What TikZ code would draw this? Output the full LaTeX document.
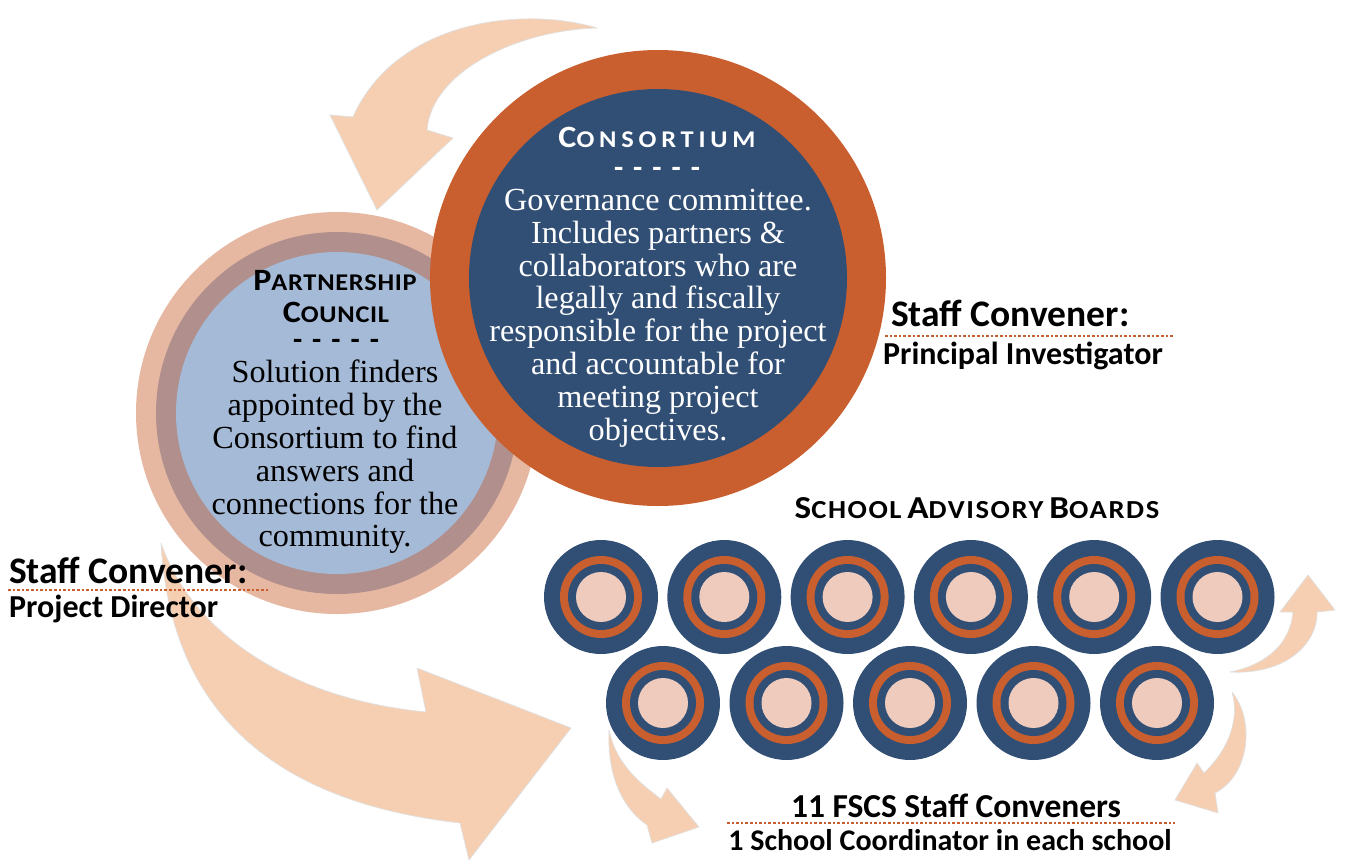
\documentclass[tikz,border=0pt]{standalone}
\usepackage{fontspec}
\setmainfont{Liberation Serif}
\newfontfamily\headfont{Carlito}
\usetikzlibrary{positioning}
\definecolor{cNavy}{RGB}{49,79,117}
\definecolor{cRust}{RGB}{201,94,46}
\definecolor{cPeach}{RGB}{246,207,178}
\definecolor{cSalmon}{RGB}{230,184,162}
\definecolor{cMauve}{RGB}{177,143,140}
\definecolor{cSky}{RGB}{165,186,215}
\definecolor{cBlush}{RGB}{239,203,189}
% fake small caps: big initial, smaller (widened) capitals after it, with tracking
\newcommand{\headcap}[3][3]{{\addfontfeatures{LetterSpace=#1, FakeStretch=1.1}{\fontsize{31}{31}\selectfont #2}{\fontsize{24}{24}\selectfont #3}}}
\newcommand{\boardcap}[2]{{\addfontfeatures{LetterSpace=6, FakeStretch=1.1}{\fontsize{32}{32}\selectfont #1}{\fontsize{26}{26}\selectfont #2}}}
\newcommand{\dashrule}{-\hskip10pt-\hskip10pt-\hskip10pt-\hskip10pt-}
\tikzset{
	ring/.style   ={circle, inner sep=0pt, minimum size=#1},
	sweep/.style  ={fill=cPeach, draw=black!12, line width=0.7pt, line join=round},
	dotline/.style={draw=cRust, line width=2.6pt, dash pattern=on 2.6pt off 2pt},
	body/.style   ={align=center, inner sep=0pt, font=\fontsize{32.2}{32.8}\selectfont},
	conv/.style   ={inner sep=0pt, font=\headfont\bfseries\fontsize{37.5}{37.5}\selectfont},
	role/.style   ={inner sep=0pt, font=\headfont\bfseries\fontsize{32}{32}\selectfont},
	dashrow/.style={inner sep=0pt, font=\headfont\bfseries\fontsize{30}{30}\selectfont},
	smallcaps/.style={inner sep=0pt, font=\headfont\bfseries\fontsize{26}{26}\selectfont},
}

\begin{document}
\begin{tikzpicture}[x=1pt, y=-1pt]
	\useasboundingbox[fill=white] (0,0) rectangle (1348,862);

	% curved arrows behind everything
	\draw[sweep] (597,28) .. controls (520,5) and (395,22) .. (353,117) -- (330,115) -- (377,210) -- (453,138) -- (427,130) .. controls (432,70) and (520,30) .. (597,28) -- cycle;
	\draw[sweep] (161,543) .. controls (170,700) and (260,800) .. (460,823) -- (469,860) -- (571,728) -- (417,668) -- (426,712) .. controls (300,700) and (195,640) .. (161,543) -- cycle;
	\draw[sweep] (609,730) .. controls (607,780) and (625,810) .. (647,825) -- (652,843) -- (699,827) -- (667,788) -- (661,799) .. controls (635,780) and (615,760) .. (609,730) -- cycle;
	\draw[sweep] (1230,672) .. controls (1290,675) and (1318,640) .. (1317,612) -- (1335,610) -- (1308,575) -- (1280,612) -- (1293,612) .. controls (1290,645) and (1265,665) .. (1230,672) -- cycle;
	\draw[sweep] (1232,692) .. controls (1255,720) and (1250,775) .. (1215,793) -- (1218,813) -- (1175,800) -- (1197,763) -- (1204,773) .. controls (1228,750) and (1240,720) .. (1232,692) -- cycle;

	% partnership council
	\node[ring=402pt, fill=cSalmon] (pc) at (337,413) {};
	\node[ring=362pt, fill=cMauve] (pc-mid) at (pc) {};
	\node[ring=322pt, fill=cSky] (pc-core) at (pc) {};
	\node[smallcaps, anchor=base] (pc-title) at (335,290) {\headcap{P}{ARTNERSHIP}};
	\node[smallcaps, anchor=base] (pc-title2) at (336,322) {\headcap{C}{OUNCIL}};
	\node[dashrow, anchor=base] (pc-dash) at (336,349) {\dashrule};
	\node[body, anchor=north] (pc-text) at (335,360) {Solution finders\\ appointed by the\\ Consortium to find\\ answers and\\ connections for the\\ community.};

	% consortium
	\node[ring=456pt, fill=cRust] (cons) at (658,278) {};
	\node[ring=378pt, fill=cNavy] (cons-core) at (cons) {};
	\node[smallcaps, anchor=base, text=white] (cons-title) at (657,147) {\headcap[20]{C}{ONSORTIUM}};
	\node[dashrow, anchor=base, text=white] (cons-dash) at (657,177) {\dashrule};
	\node[body, anchor=north, text=white] (cons-text) at (658,189) {Governance committee.\\ Includes partners \&\\ collaborators who are\\ legally and fiscally\\ responsible for the project\\ and accountable for\\ meeting project\\ objectives.};

	% staff conveners
	\node[conv, anchor=base west] (pi-head) at (891,326) {Staff Convener:};
	\draw[dotline] (885,336) -- (1173,336);
	\node[role, anchor=base west] (pi-role) at (883,364) {Principal Investigator};
	\node[conv, anchor=base west] (pd-head) at (9,583) {Staff Convener:};
	\draw[dotline] (8,590) -- (268,590);
	\node[role, anchor=base west] (pd-role) at (9,617) {Project Director};

	% school advisory boards
	\node[smallcaps, anchor=base] (sab) at (977,518) {\boardcap{S}{CHOOL} \boardcap{A}{DVISORY} \boardcap{B}{OARDS}};
	\foreach \i in {0,...,5} {
		\node[ring=114pt, fill=cNavy] (top\i) at ({601+123.3*\i},597) {};
		\node[ring=82pt, fill=cRust] (top\i-a) at (top\i) {};
		\node[ring=66pt, fill=cNavy] (top\i-b) at (top\i) {};
		\node[ring=50pt, fill=cBlush] (top\i-c) at (top\i) {};
	}
	\foreach \i in {0,...,4} {
		\node[ring=114pt, fill=cNavy] (low\i) at ({663+123.5*\i},703) {};
		\node[ring=82pt, fill=cRust] (low\i-a) at (low\i) {};
		\node[ring=66pt, fill=cNavy] (low\i-b) at (low\i) {};
		\node[ring=50pt, fill=cBlush] (low\i-c) at (low\i) {};
	}
	\node[conv, font=\headfont\bfseries\fontsize{33.5}{33.5}\selectfont, anchor=base] (fscs) at (956,817) {11 FSCS Staff Conveners};
	\draw[dotline] (727,823) -- (1175,823);
	\node[role, font=\headfont\bfseries\fontsize{30}{30}\selectfont, anchor=base] (coord) at (950,850) {1 School Coordinator in each school};
\end{tikzpicture}
\end{document}
